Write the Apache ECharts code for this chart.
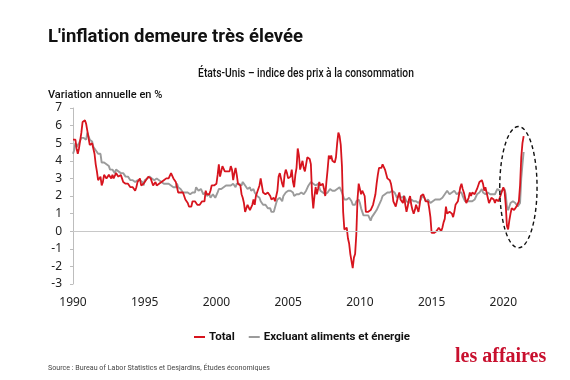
<!DOCTYPE html>
<html><head><meta charset="utf-8">
<script src="https://cdn.jsdelivr.net/npm/echarts@6/dist/echarts.min.js"></script>
<style>html,body{margin:0;padding:0;background:#fff}#c{width:570px;height:380px}</style>
</head><body><div id="c"></div>
<script>
const startYear = 1990;
const seriesNames = ['Total', 'Excluant aliments et énergie'];
const xTicks = [1990, 1995, 2000, 2005, 2010, 2015, 2020];
const yTicks = [-3, -2, -1, 0, 1, 2, 3, 4, 5, 6, 7];
// Monthly year-over-year % change, Jan 1990 -> Jun 2021
const total = [
 5.2,5.3,5.2,4.7,4.4,4.7,4.8,5.6,6.2,6.3,6.3,6.1,
 5.7,5.3,4.9,4.9,5.0,4.7,4.4,3.8,3.4,2.9,3.0,3.1,
 2.6,2.8,3.2,3.2,3.0,3.1,3.2,3.1,3.0,3.2,3.0,2.9,
 3.3,3.2,3.1,3.2,3.2,3.0,2.8,2.8,2.7,2.8,2.7,2.7,
 2.5,2.5,2.5,2.4,2.3,2.5,2.8,2.9,3.0,2.6,2.7,2.7,
 2.8,2.9,2.9,3.1,3.2,3.0,2.8,2.6,2.5,2.8,2.6,2.5,
 2.7,2.7,2.8,2.9,2.9,2.8,3.0,2.9,3.0,3.0,3.3,3.3,
 3.0,3.0,2.8,2.5,2.2,2.3,2.2,2.2,2.2,2.1,1.8,1.7,
 1.6,1.4,1.4,1.4,1.7,1.7,1.7,1.6,1.5,1.5,1.5,1.6,
 1.7,1.6,1.7,2.3,2.1,2.0,2.1,2.3,2.6,2.6,2.6,2.7,
 2.7,3.2,3.8,3.1,3.2,3.7,3.7,3.4,3.5,3.4,3.4,3.4,
 3.7,3.5,2.9,3.3,3.6,3.2,2.7,2.7,2.6,2.1,1.9,1.6,
 1.1,1.1,1.5,1.6,1.2,1.1,1.5,1.8,1.5,2.0,2.2,2.4,
 2.6,3.0,3.0,2.2,2.1,2.1,2.1,2.2,2.3,2.0,1.8,1.9,
 1.9,1.7,1.7,2.3,3.1,3.3,3.0,2.7,2.5,3.2,3.5,3.3,
 3.0,3.0,3.1,3.5,2.8,2.5,3.2,3.6,4.7,4.3,3.5,3.4,
 4.0,3.6,3.4,3.5,4.2,4.3,4.1,3.8,2.1,1.3,2.0,2.5,
 2.1,2.4,2.8,2.6,2.7,2.7,2.4,2.0,2.8,3.5,4.3,4.1,
 4.3,4.0,4.0,3.9,4.2,5.0,5.6,5.4,4.9,3.7,1.1,0.1,
 0.0,0.2,-0.4,-0.7,-1.3,-1.4,-2.1,-1.5,-1.3,-0.2,1.8,2.7,
 2.6,2.1,2.3,2.2,2.0,1.1,1.2,1.1,1.1,1.2,1.1,1.5,
 1.6,2.1,2.7,3.2,3.6,3.6,3.6,3.8,3.9,3.5,3.4,3.0,
 2.9,2.9,2.7,2.3,1.7,1.7,1.4,1.7,2.0,2.2,1.8,1.7,
 1.6,2.0,1.5,1.1,1.4,1.8,2.0,1.5,1.2,1.0,1.2,1.5,
 1.6,1.1,1.5,2.0,2.1,2.1,2.0,1.7,1.7,1.7,1.3,0.8,
 -0.1,0.0,-0.1,-0.2,0.0,0.1,0.2,0.2,0.0,0.2,0.5,0.7,
 1.4,1.0,0.9,1.1,1.0,1.0,0.8,1.1,1.5,1.6,1.7,2.1,
 2.5,2.7,2.4,2.2,1.9,1.6,1.7,1.9,2.2,2.0,2.2,2.1,
 2.1,2.2,2.4,2.5,2.8,2.9,2.9,2.7,2.3,2.5,2.2,1.9,
 1.6,1.5,1.9,2.0,1.8,1.6,1.8,1.7,1.7,1.8,2.1,2.3,
 2.5,2.3,1.5,0.3,0.1,0.6,1.0,1.3,1.4,1.2,1.2,1.4,
 1.4,1.7,2.6,4.2,5.0,5.4
];
const core = [
 4.4,4.6,5.0,4.8,4.8,5.0,5.0,5.3,5.4,5.3,5.3,5.2,
 5.6,5.6,5.2,5.1,5.1,4.8,4.8,4.6,4.5,4.4,4.5,4.4,
 3.9,3.8,3.9,3.9,3.8,3.9,3.7,3.5,3.4,3.5,3.5,3.3,
 3.5,3.5,3.4,3.4,3.3,3.3,3.3,3.2,3.1,3.2,3.1,3.2,
 2.9,2.8,2.9,2.8,2.8,2.9,2.9,2.9,2.9,2.9,2.8,2.6,
 2.9,3.0,3.0,3.1,3.1,3.0,3.0,3.0,2.9,3.0,3.0,3.0,
 2.9,2.8,2.8,2.7,2.7,2.7,2.7,2.6,2.7,2.6,2.6,2.6,
 2.5,2.5,2.5,2.7,2.5,2.4,2.4,2.3,2.2,2.3,2.2,2.2,
 2.2,2.3,2.1,2.1,2.2,2.2,2.2,2.5,2.5,2.3,2.3,2.4,
 2.4,2.1,2.1,2.2,2.0,2.1,2.1,1.9,2.0,2.1,2.1,1.9,
 2.0,2.2,2.4,2.3,2.4,2.5,2.5,2.6,2.6,2.5,2.6,2.6,
 2.6,2.7,2.7,2.6,2.5,2.7,2.7,2.7,2.6,2.6,2.8,2.7,
 2.6,2.6,2.4,2.5,2.5,2.3,2.2,2.4,2.2,2.2,2.0,1.9,
 1.9,1.7,1.7,1.5,1.6,1.5,1.5,1.3,1.2,1.3,1.1,1.1,
 1.1,1.2,1.6,1.8,1.7,1.9,1.8,1.7,2.0,2.0,2.2,2.2,
 2.3,2.4,2.3,2.2,2.2,2.0,2.1,2.1,2.0,2.1,2.1,2.2,
 2.1,2.1,2.1,2.3,2.4,2.6,2.7,2.8,2.9,2.7,2.6,2.6,
 2.7,2.7,2.5,2.3,2.2,2.2,2.2,2.1,2.1,2.2,2.3,2.4,
 2.5,2.3,2.4,2.3,2.3,2.4,2.5,2.5,2.5,2.2,2.0,1.8,
 1.7,1.8,1.8,1.9,1.8,1.7,1.5,1.4,1.5,1.7,1.7,1.8,
 1.6,1.3,1.1,0.9,0.9,0.9,0.9,0.9,0.8,0.6,0.8,0.8,
 1.0,1.1,1.2,1.3,1.5,1.6,1.8,2.0,2.0,2.1,2.2,2.2,
 2.3,2.2,2.3,2.3,2.3,2.2,2.1,1.9,2.0,2.0,1.9,1.9,
 1.9,2.0,1.9,1.7,1.7,1.6,1.7,1.8,1.7,1.7,1.7,1.7,
 1.6,1.6,1.7,1.8,2.0,1.9,1.9,1.7,1.7,1.8,1.7,1.6,
 1.6,1.7,1.8,1.8,1.7,1.8,1.8,1.8,1.9,1.9,2.0,2.1,
 2.2,2.3,2.2,2.1,2.2,2.2,2.2,2.3,2.2,2.1,2.1,2.2,
 2.3,2.2,2.0,1.9,1.7,1.7,1.7,1.7,1.7,1.8,1.7,1.8,
 1.8,1.8,2.1,2.1,2.2,2.3,2.4,2.2,2.2,2.1,2.2,2.2,
 2.2,2.1,2.0,2.1,2.0,2.1,2.2,2.4,2.4,2.3,2.3,2.3,
 2.3,2.4,2.1,1.4,1.2,1.2,1.6,1.7,1.7,1.6,1.6,1.6,
 1.4,1.3,1.6,3.0,3.8,4.5
];
const pairs = arr => arr.map((v, i) => [startYear + i / 12, v]);

const chart = echarts.init(document.getElementById('c'), null, {renderer: 'canvas'});
const RED = '#d7141e', GREY = '#9b9b9b';
chart.setOption({
  animation: false,
  backgroundColor: '#fff',
  title: [
    {text: "L'inflation demeure très élevée", left: 48, top: 28, padding: 0,
     textStyle: {fontFamily: 'Roboto', fontWeight: 'bold', fontSize: 18.5, color: '#111'}},
    {text: 'Variation annuelle en %', left: 48, top: 90, padding: 0,
     textStyle: {fontFamily: 'Roboto', fontWeight: 500, fontSize: 11, color: '#111'}},
    {text: 'les affaires', left: 455, top: 347, padding: 0,
     textStyle: {fontFamily: '"Liberation Serif","DejaVu Serif",serif', fontWeight: 'bold', fontSize: 20, color: '#c8102e'}}
  ],
  legend: {
    data: seriesNames, left: 194, top: 331, padding: 0, icon: 'rect', itemWidth: 11, itemHeight: 2, itemGap: 14,
    textStyle: {fontFamily: 'Roboto', fontWeight: 'bold', fontSize: 11.5, color: '#111', padding: [0, 0, 0, -1]}
  },
  grid: {left: 73, right: 43, top: 108, bottom: 96},
  xAxis: {
    type: 'value', min: 1990, max: 2021.65, interval: 5,
    axisLine: {show: false}, axisTick: {show: false}, splitLine: {show: false},
    axisLabel: {margin: 13, showMaxLabel: false, fontFamily: '"Noto Sans"', fontSize: 12, color: '#222',
      formatter: v => xTicks.includes(v) ? String(v) : ''}
  },
  yAxis: {
    type: 'value', min: yTicks[0], max: yTicks[yTicks.length - 1], interval: 1,
    axisLine: {show: true, lineStyle: {color: '#bdbdbd', width: 1}},
    axisTick: {show: true, length: 3, lineStyle: {color: '#bdbdbd'}},
    splitLine: {show: false},
    axisLabel: {margin: 11, fontFamily: '"Noto Sans"', fontSize: 12, color: '#222'}
  },
  series: [
    {name: seriesNames[1], type: 'line', data: pairs(core), showSymbol: false, symbol: 'none',
     lineStyle: {color: GREY, width: 1.9}, itemStyle: {color: GREY}, z: 2,
     markLine: {silent: true, symbol: 'none', label: {show: false},
       lineStyle: {color: '#c8c8c8', width: 1, type: 'solid'}, data: [{yAxis: 0}]}},
    {name: seriesNames[0], type: 'line', data: pairs(total), showSymbol: false, symbol: 'none',
     lineStyle: {color: RED, width: 1.8}, itemStyle: {color: RED}, z: 3}
  ]
});
// Dashed ellipse highlighting the 2020-2021 surge
const c0 = chart.convertToPixel({gridIndex: 0}, [2021.05, 2.5]);
const cx1 = chart.convertToPixel({gridIndex: 0}, [2022.35, 2.5]);
const cy1 = chart.convertToPixel({gridIndex: 0}, [2021.05, 5.95]);
chart.setOption({
  graphic: [
    {type: 'ellipse', z: 10, silent: true,
     shape: {cx: c0[0], cy: c0[1], rx: cx1[0] - c0[0], ry: c0[1] - cy1[1]},
     style: {fill: 'none', stroke: '#111', lineWidth: 1.4, lineDash: [4, 3]}},
    {type: 'text', x: 306, y: 74, scaleX: 0.79, silent: true,
     style: {text: 'États-Unis – indice des prix à la consommation', font: '500 13px Roboto', fill: '#111',
       textAlign: 'center', textVerticalAlign: 'middle'}},
    {type: 'text', x: 48, y: 368, scaleX: 0.89, silent: true,
     style: {text: 'Source : Bureau of Labor Statistics et Desjardins, Études économiques', font: '8px Roboto', fill: '#444',
       textAlign: 'left', textVerticalAlign: 'middle'}}
  ]
});
</script></body></html>
